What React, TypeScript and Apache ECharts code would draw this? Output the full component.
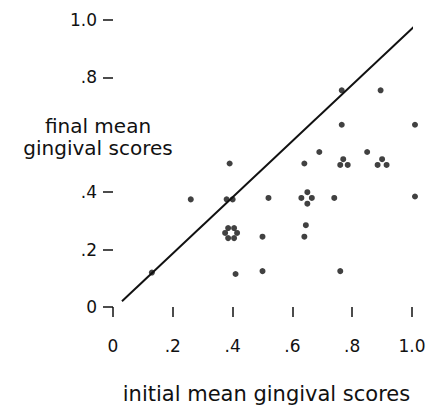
import React, { useEffect, useRef } from "react";
import * as echarts from "echarts";

const xTicks = [0, 0.2, 0.4, 0.6, 0.8, 1.0];
const yTicks = [0, 0.2, 0.4, 0.8, 1.0];
const xTitle = "initial mean gingival scores";
const yTitleLines = ["final mean", "gingival scores"];

const initialScores = [
  0.13, 0.26, 0.38, 0.40, 0.39, 0.385, 0.405, 0.375, 0.415, 0.385, 0.405, 0.41,
  0.50, 0.50, 0.52, 0.64, 0.65, 0.65, 0.63, 0.665, 0.645, 0.64, 0.69, 0.74,
  0.765, 0.765, 0.76, 0.77, 0.785, 0.76, 0.85, 0.895, 0.885, 0.90, 0.915, 1.01, 1.01,
];
const finalScores = [
  0.12, 0.375, 0.375, 0.375, 0.50, 0.275, 0.275, 0.258, 0.258, 0.24, 0.24, 0.115,
  0.245, 0.125, 0.38, 0.50, 0.40, 0.36, 0.38, 0.38, 0.285, 0.245, 0.54, 0.38,
  0.755, 0.635, 0.495, 0.515, 0.495, 0.125, 0.54, 0.755, 0.495, 0.515, 0.495, 0.635, 0.385,
];
const identityLineX = [0.03, 1.02];
const identityLineY = [0.02, 0.99];

const fmt = (v: number) => (v === 0 ? "0" : v >= 1 ? v.toFixed(1) : v.toFixed(1).replace(/^0/, ""));

export default function App() {
  const ref = useRef<HTMLDivElement>(null);
  useEffect(() => {
    if (!ref.current) return;
    const chart = echarts.init(ref.current, null, { renderer: "svg" });
    const font = "DejaVu Sans";
    chart.setOption({
      animation: false,
      backgroundColor: "#ffffff",
      grid: { left: 113, top: 20, width: 299, height: 299 },
      xAxis: {
        type: "value",
        min: 0,
        max: 1,
        interval: 0.2,
        axisLine: { show: false },
        splitLine: { show: false },
        axisTick: { show: true, length: 10, lineStyle: { color: "#111", width: 1.5 }, customValues: xTicks },
        axisLabel: {
          customValues: xTicks,
          formatter: (v: number) => fmt(v),
          margin: 30,
          color: "#111",
          fontFamily: font,
          fontSize: 17,
        },
        name: xTitle,
        nameLocation: "middle",
        nameGap: 76,
        nameTextStyle: { color: "#111", fontFamily: font, fontSize: 21, padding: [0, 0, 0, 8] },
      },
      yAxis: {
        type: "value",
        min: 0,
        max: 1,
        interval: 0.2,
        axisLine: { show: false },
        splitLine: { show: false },
        axisTick: { show: true, length: 10, lineStyle: { color: "#111", width: 1.5 }, customValues: yTicks },
        axisLabel: {
          customValues: yTicks,
          formatter: (v: number) => fmt(v),
          margin: 16,
          color: "#111",
          fontFamily: font,
          fontSize: 17,
        },
      },
      graphic: yTitleLines.map((line, i) => ({
        type: "text",
        x: 98,
        y: 126 + i * 22,
        style: {
          text: line,
          fill: "#111",
          font: `20px "${font}"`,
          align: "center",
          verticalAlign: "middle",
        },
      })),
      series: [
        {
          type: "line",
          data: identityLineX.map((x, i) => [x, identityLineY[i]]),
          symbol: "none",
          lineStyle: { color: "#111", width: 2 },
          clip: false,
          silent: true,
        },
        {
          type: "scatter",
          data: initialScores.map((x, i) => [x, finalScores[i]]),
          symbol: "circle",
          symbolSize: 6,
          itemStyle: { color: "#111" },
          clip: false,
        },
      ],
    });
    return () => chart.dispose();
  }, []);
  return (
    <div
      ref={ref}
      style={{ position: "fixed", left: 0, top: 0, width: 430, height: 409, background: "#fff" }}
    />
  );
}
